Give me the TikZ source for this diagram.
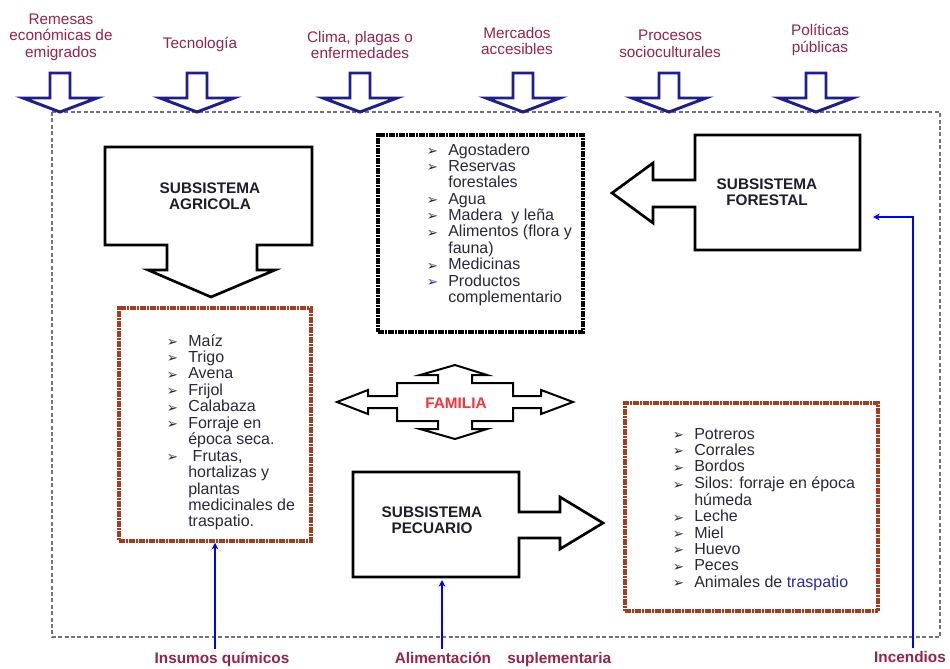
\documentclass[tikz,border=0pt]{standalone}
\usepackage{fontspec}
\setmainfont{Liberation Sans}
\newfontfamily\symfont{DejaVu Sans}
\usetikzlibrary{arrows.meta}
\definecolor{labelred}{RGB}{150,35,75}
\definecolor{navyarrow}{RGB}{30,30,140}
\definecolor{boxbrown}{RGB}{165,60,30}
\definecolor{itemtext}{RGB}{40,40,55}
\definecolor{titletext}{RGB}{30,30,40}
\definecolor{famred}{RGB}{250,50,55}
\definecolor{traspblue}{RGB}{40,40,170}
\newcommand{\bul}[1][itemtext]{\makebox[16pt][l]{\raisebox{-0.3pt}{\color{#1}\symfont\fontsize{10}{10}\selectfont ➢}}}
\newcommand{\ind}{\hspace*{16pt}}
\begin{document}
\begin{tikzpicture}[x=0.75pt, y=-0.75pt,
  toplabel/.style={align=center, text=labelred, font=\fontsize{11.5}{12.4}\selectfont},
  botlabel/.style={text=labelred, font=\bfseries\fontsize{11.5}{12.4}\selectfont, inner sep=2pt},
  inflow/.style={draw=navyarrow, line width=2.2pt, fill=white, line join=miter},
  subsys/.style={draw=black, line width=2pt, fill=white, line join=miter},
  systitle/.style={align=center, text=titletext, font=\bfseries\fontsize{11.5}{12}\selectfont},
  listbox/.style={draw=#1, line width=2.6pt, dash pattern=on 2pt off 0.5pt, inner sep=0pt},
  itemlist/.style={anchor=base west, inner sep=0pt, text=itemtext, font=\fontsize{12}{12.2}\selectfont},
  bluelink/.style={draw=blue, line width=1.8pt, -{Stealth[length=5pt,width=5pt]}}]

  \useasboundingbox (0,0) rectangle (950,668);

  % frame of the system
  \draw[black!55, line width=0.9pt, dash pattern=on 3pt off 1.8pt] (52,112) rectangle (940,637);

  % external factors
  \node[toplabel] (remesas) at (61,37) {Remesas\\económicas de\\emigrados};
  \node[toplabel] (tecno) at (200,44) {Tecnología};
  \node[toplabel] (clima) at (360,45) {Clima, plagas o\\enfermedades};
  \node[toplabel] (mercados) at (517,41) {Mercados\\accesibles};
  \node[toplabel] (procesos) at (670,44) {Procesos\\socioculturales};
  \node[toplabel] (politicas) at (820,40) {Políticas\\públicas};
  \foreach \x in {60,197,360,523,669,816}
    \draw[inflow] ({\x-10},73) -- ({\x+10},73) -- ({\x+10},98) -- ({\x+37},98)
      -- (\x,112) -- ({\x-37},98) -- ({\x-10},98) -- cycle;

  % subsistema agricola
  \draw[subsys] (105,147) -- (312,147) -- (312,245) -- (257,245) -- (257,270) -- (275,270)
    -- (211,297) -- (148,270) -- (167,270) -- (167,245) -- (105,245) -- cycle;
  \node[systitle] (agricola) at (210,196) {SUBSISTEMA\\AGRICOLA};

  % subsistema forestal
  \draw[subsys] (695,135) -- (860,135) -- (860,250) -- (695,250) -- (695,207) -- (653,207)
    -- (653,223) -- (612,193) -- (653,163) -- (653,180) -- (695,180) -- cycle;
  \node[systitle] (forestal) at (767,192) {SUBSISTEMA\\FORESTAL};
  \coordinate (forestal-e) at (873,217);

  % subsistema pecuario
  \draw[subsys] (353,472) -- (519,472) -- (519,512) -- (560,512) -- (560,497) -- (603,523)
    -- (560,549) -- (560,538) -- (519,538) -- (519,577) -- (353,577) -- cycle;
  \node[systitle] (pecuario) at (432,520) {SUBSISTEMA\\PECUARIO};
  \coordinate (pecuario-s) at (442,580);

  % familia
  \draw[black, line width=1.5pt, fill=white, line join=miter]
    (337,402) -- (368,390) -- (368,396) -- (397,396) -- (397,383) -- (438,383) -- (438,375)
    -- (420,375) -- (455,365) -- (487,375) -- (472,375) -- (472,383) -- (513,383) -- (513,396)
    -- (541,396) -- (541,390) -- (573,402) -- (541,414) -- (541,408) -- (513,408) -- (513,421)
    -- (472,421) -- (472,429) -- (487,429) -- (455,439) -- (420,429) -- (438,429) -- (438,421)
    -- (397,421) -- (397,408) -- (368,408) -- (368,414) -- cycle;
  \node[text=famred, font=\bfseries\fontsize{11.5}{12}\selectfont] (familia) at (456,403) {FAMILIA};

  % product boxes
  \node[listbox=black, minimum width=153.75pt, minimum height=147.75pt] (bosquebox) at (480.5,233.5) {};
  \node[listbox=boxbrown, minimum width=144pt, minimum height=174.75pt] (agribox) at (215,424.5) {};
  \node[listbox=boxbrown, minimum width=189.75pt, minimum height=156pt] (pecubox) at (751.5,507) {};

  \node[itemlist] (bosquelist) at (426.7,155) {\begin{tabular}[t]{@{}l@{}}
    \bul Agostadero\\
    \bul Reservas\\
    \ind forestales\\
    \bul Agua\\
    \bul Madera\ \ y leña\\
    \bul Alimentos (flora y\\
    \ind fauna)\\
    \bul Medicinas\\
    \bul[traspblue]Productos\\
    \ind complementario
  \end{tabular}};
  \node[itemlist] (agrilist) at (166.7,346) {\begin{tabular}[t]{@{}l@{}}
    \bul Maíz\\
    \bul Trigo\\
    \bul Avena\\
    \bul Frijol\\
    \bul Calabaza\\
    \bul Forraje en\\
    \ind época seca.\\
    \bul \ Frutas,\\
    \ind hortalizas y\\
    \ind plantas\\
    \ind medicinales de\\
    \ind traspatio.
  \end{tabular}};
  \node[itemlist] (peculist) at (672.7,439) {\begin{tabular}[t]{@{}l@{}}
    \bul Potreros\\
    \bul Corrales\\
    \bul Bordos\\
    \bul Silos: forraje en época\\
    \ind húmeda\\
    \bul Leche\\
    \bul Miel\\
    \bul Huevo\\
    \bul Peces\\
    \bul Animales de \textcolor{traspblue}{traspatio}
  \end{tabular}};

  % inputs from outside
  \node[botlabel] (insumos) at (222,659) {Insumos químicos};
  \node[botlabel] (alimentacion) at (503,659) {Alimentación\hspace{9pt} suplementaria};
  \node[botlabel] (incendios) at (910,657) {Incendios};
  \draw[bluelink] (insumos.north -| agribox.south) -- (agribox.south);
  \draw[bluelink] (alimentacion.north -| pecuario-s) -- (pecuario-s);
  \draw[bluelink] (incendios.north -| 913,0) |- (forestal-e);
\end{tikzpicture}
\end{document}
